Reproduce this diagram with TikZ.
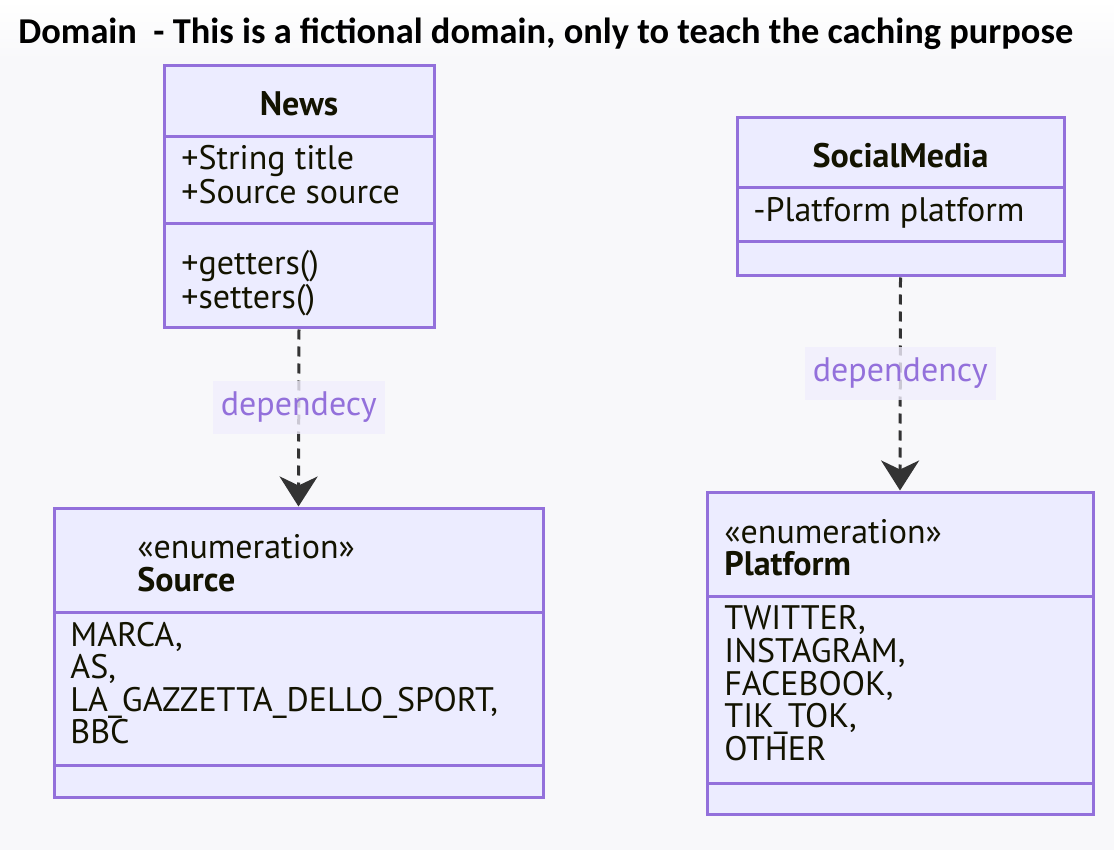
\documentclass[tikz,border=0pt]{standalone}
\usepackage{fontspec}
\setmainfont{PT Sans}
\newfontfamily\titlefont{Carlito}
\usetikzlibrary{arrows.meta}

\definecolor{umlborder}{HTML}{9370DB}
\definecolor{umlfill}{HTML}{ECECFF}
\definecolor{umltext}{HTML}{131300}
\definecolor{labelfill}{HTML}{F1EEFD}
\definecolor{pagebg}{HTML}{F8F8FA}
\definecolor{arrowgrey}{HTML}{333333}

\tikzset{
  classbox/.style={draw=umlborder, fill=umlfill, line width=1.5pt, inner sep=0pt},
  divider/.style={draw=umlborder, line width=1.5pt},
  member/.style={anchor=base west, inner sep=0pt, text=umltext, font=\fontsize{17}{20}\selectfont},
  classname/.style={member, font=\bfseries\fontsize{17}{20}\selectfont},
  dep/.style={draw=arrowgrey, line width=1.5pt, dash pattern=on 5pt off 3.5pt,
    -{Stealth[length=15pt, width=19pt, inset=4.5pt]}},
  deplabel/.style={fill=labelfill, fill opacity=0.8, text opacity=1, text=umlborder,
    font=\fontsize{17}{20}\selectfont, minimum height=26.5pt, inner xsep=4pt}
}

\begin{document}
\begin{tikzpicture}[x=0.5pt, y=-0.5pt]
    % page
    \useasboundingbox (0,0) rectangle (1114,850);
    \fill[pagebg] (0,0) rectangle (1114,850);
    \shade[top color=white, bottom color=pagebg] (0,0) rectangle (1114,60);
    \node[anchor=base west, inner sep=0pt, font=\titlefont\bfseries\fontsize{18.2}{22}\selectfont] (title) at (18,44)
        {Domain\ \ - This is a fictional domain, only to teach the caching purpose};

    % News
    \node[classbox, minimum width=135pt, minimum height=131pt] (news) at (299,197) {};
    \draw[divider] (164,137) -- (434,137);
    \draw[divider] (164,224) -- (434,224);
    \node[classname, anchor=base] (newsname) at (299,116) {News};
    \node[member] (newsattr1) at (181,170) {+String title};
    \node[member] (newsattr2) at (181,204) {+Source source};
    \node[member] (newsop1) at (181,275) {+getters()};
    \node[member] (newsop2) at (181,308) {+setters()};

    % SocialMedia
    \node[classbox, minimum width=163.5pt, minimum height=79pt] (social) at (900.5,197) {};
    \draw[divider] (737,188) -- (1064,188);
    \draw[divider] (737,242) -- (1064,242);
    \node[classname, anchor=base] (socialname) at (900.5,168) {SocialMedia};
    \node[member] (socialattr) at (753,222) {-Platform platform};

    % Source
    \node[classbox, minimum width=244.5pt, minimum height=144.5pt] (source) at (298.5,652.5) {};
    \draw[divider] (54,612) -- (543,612);
    \draw[divider] (54,765) -- (543,765);
    \node[member] (sourcestereo) at (137,558) {«enumeration»};
    \node[classname] (sourcename) at (137,591) {Source};
    \foreach \val [count=\i] in {{MARCA,},{AS,},{LA\_GAZZETTA\_DELLO\_SPORT,},{BBC}}
        \node[member] (sourceval\i) at (70,{646+32.5*(\i-1)}) {\val};

    % Platform
    \node[classbox, minimum width=193pt, minimum height=161pt] (platform) at (900,653) {};
    \draw[divider] (707,596) -- (1093,596);
    \draw[divider] (707,783) -- (1093,783);
    \node[member] (platformstereo) at (724,543) {«enumeration»};
    \node[classname] (platformname) at (724,575) {Platform};
    \foreach \val [count=\i] in {{TWITTER,},{INSTAGRAM,},{FACEBOOK,},{TIK\_TOK,},{OTHER}}
        \node[member] (platformval\i) at (724,{629.5+32.75*(\i-1)}) {\val};

    % dependencies
    \draw[dep] (news.south) -- node[deplabel, pos=0.44] (newsdep) {dependecy} (source.north);
    \draw[dep] (social.south) -- node[deplabel, pos=0.45] (socialdep) {dependency} (platform.north);
\end{tikzpicture}
\end{document}
